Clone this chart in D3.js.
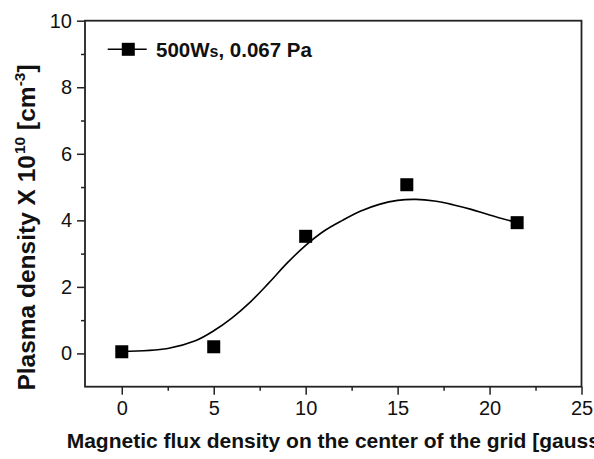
<!DOCTYPE html>
<html>
<head>
<meta charset="utf-8">
<script src="https://cdn.jsdelivr.net/npm/d3@7"></script>
<style>
  html, body { margin: 0; padding: 0; background: #fff; }
  svg { display: block; font-family: "Liberation Sans", Arial, sans-serif; }
</style>
</head>
<body>
<svg id="chart" width="594" height="459"></svg>
<script>
// Measured plasma density vs. magnetic flux density at the grid centre
const fluxGauss = [0, 5, 10, 15.5, 21.5];
const densityE10 = [0.05, 0.2, 3.52, 5.07, 3.93];

// Smoothed trend line through the measurements
const fitX = [0, 2.5, 4, 5, 6, 7, 8, 9, 10, 11, 12, 13, 14, 15, 16, 17, 18, 19, 20, 21.5];
const fitY = [0.06, 0.15, 0.38, 0.68, 1.07, 1.55, 2.12, 2.72, 3.25, 3.68, 4.0, 4.28, 4.48, 4.6, 4.63, 4.58, 4.47, 4.33, 4.16, 3.93];

const xMajorTicks = [0, 5, 10, 15, 20, 25];
const xMinorTicks = [2.5, 7.5, 12.5, 17.5, 22.5];
const yMajorTicks = [0, 2, 4, 6, 8, 10];
const yMinorTicks = [1, 3, 5, 7, 9];

const seriesLabel = "500W";
const seriesLabelSub = "s";
const seriesLabelRest = ", 0.067 Pa";

const svg = d3.select("#chart");
const plotL = 85, plotR = 581.5, plotT = 20.7, plotB = 386.7;

const x = d3.scaleLinear().domain([-2, 25]).range([plotL, plotR]);
const y = d3.scaleLinear().domain([-1, 10]).range([plotB, plotT]);

// Axes: major ticks with labels, minor ticks without
const xAxis = d3.axisBottom(x).tickValues(xMajorTicks).tickSize(8).tickPadding(6).tickFormat(d3.format("d"));
const xMinor = d3.axisBottom(x).tickValues(xMinorTicks).tickSize(4).tickFormat("");
const yAxis = d3.axisLeft(y).tickValues(yMajorTicks).tickSize(8).tickPadding(5).tickFormat(d3.format("d"));
const yMinor = d3.axisLeft(y).tickValues(yMinorTicks).tickSize(4).tickFormat("");

function styleAxis(g) {
  g.select(".domain").remove();
  g.selectAll(".tick line").attr("stroke", "#222").attr("stroke-width", 1.5);
  g.selectAll(".tick text").attr("fill", "#111").style("font-size", "20px").style("font-family", "'Liberation Sans', Arial, sans-serif");
}

svg.append("g").attr("transform", `translate(0,${plotB})`).call(xAxis).call(styleAxis);
svg.append("g").attr("transform", `translate(0,${plotB})`).call(xMinor).call(styleAxis);
svg.append("g").attr("transform", `translate(${plotL},0)`).call(yAxis).call(styleAxis);
svg.append("g").attr("transform", `translate(${plotL},0)`).call(yMinor).call(styleAxis);

// Plot frame
svg.append("rect")
  .attr("x", plotL).attr("y", plotT)
  .attr("width", plotR - plotL).attr("height", plotB - plotT)
  .attr("fill", "none").attr("stroke", "#222").attr("stroke-width", 1.8);

// Trend line
const fitPts = fitX.map((v, i) => [v, fitY[i]]);
svg.append("path")
  .datum(fitPts)
  .attr("fill", "none")
  .attr("stroke", "#000")
  .attr("stroke-width", 1.6)
  .attr("d", d3.line().x(d => x(d[0])).y(d => y(d[1])).curve(d3.curveCatmullRom.alpha(0.5)));

// Measured points as filled squares
const ms = 13;
svg.append("g").selectAll("rect")
  .data(fluxGauss.map((v, i) => [v, densityE10[i]]))
  .join("rect")
  .attr("x", d => x(d[0]) - ms / 2)
  .attr("y", d => y(d[1]) - ms / 2)
  .attr("width", ms).attr("height", ms)
  .attr("fill", "#000");

// Legend
const lg = svg.append("g");
lg.append("line").attr("x1", 107.7).attr("x2", 146.7).attr("y1", 49.3).attr("y2", 49.3)
  .attr("stroke", "#000").attr("stroke-width", 1.6);
lg.append("rect").attr("x", 128.3 - ms / 2).attr("y", 49.3 - ms / 2).attr("width", ms).attr("height", ms).attr("fill", "#000");
const lt = lg.append("text").attr("x", 156).attr("y", 56.5)
  .style("font-size", "20.5px").style("font-weight", "bold").attr("fill", "#111");
lt.append("tspan").text(seriesLabel);
lt.append("tspan").style("font-size", "16px").text(seriesLabelSub);
lt.append("tspan").text(seriesLabelRest);

// Axis titles
svg.append("text")
  .attr("x", 66.7).attr("y", 448)
  .style("font-size", "21px").style("font-weight", "bold").attr("fill", "#111")
  .text("Magnetic flux density on the center of the grid [gauss]");

const yt = svg.append("text")
  .attr("transform", "translate(35,227.5) rotate(-90)")
  .attr("text-anchor", "middle")
  .style("font-size", "24.5px").style("font-weight", "bold").attr("fill", "#111");
yt.append("tspan").text("Plasma density X 10");
yt.append("tspan").attr("dx", 1).attr("dy", -10).style("font-size", "15.5px").text("10");
yt.append("tspan").attr("dy", 10).text(" [cm");
yt.append("tspan").attr("dy", -10).style("font-size", "15.5px").text("-3");
yt.append("tspan").attr("dy", 10).text("]");
</script>
</body>
</html>
